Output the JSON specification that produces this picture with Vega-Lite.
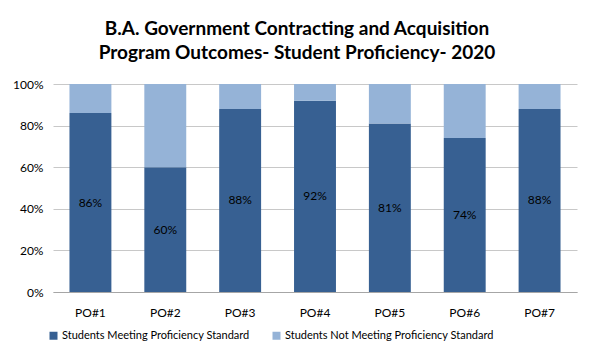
{
  "$schema": "https://vega.github.io/schema/vega-lite/v6.json",
  "width": 524,
  "height": 208,
  "autosize": {"type": "none"},
  "padding": {"left": 53, "top": 84, "right": 18, "bottom": 69},
  "background": "white",
  "title": {
    "text": ["B.A. Government Contracting and Acquisition", "Program Outcomes- Student Proficiency- 2020"],
    "anchor": "middle",
    "dx": -18,
    "font": "Lato",
    "fontSize": 19,
    "fontWeight": "bold",
    "lineHeight": 24,
    "offset": 15,
    "color": "#000000"
  },
  "data": {
    "values": [
      {"po": "PO#1", "category": "Students Meeting Proficiency Standard", "value": 0.86},
      {"po": "PO#2", "category": "Students Meeting Proficiency Standard", "value": 0.60},
      {"po": "PO#3", "category": "Students Meeting Proficiency Standard", "value": 0.88},
      {"po": "PO#4", "category": "Students Meeting Proficiency Standard", "value": 0.92},
      {"po": "PO#5", "category": "Students Meeting Proficiency Standard", "value": 0.81},
      {"po": "PO#6", "category": "Students Meeting Proficiency Standard", "value": 0.74},
      {"po": "PO#7", "category": "Students Meeting Proficiency Standard", "value": 0.88},
      {"po": "PO#1", "category": "Students Not Meeting Proficiency Standard", "value": 0.14},
      {"po": "PO#2", "category": "Students Not Meeting Proficiency Standard", "value": 0.40},
      {"po": "PO#3", "category": "Students Not Meeting Proficiency Standard", "value": 0.12},
      {"po": "PO#4", "category": "Students Not Meeting Proficiency Standard", "value": 0.08},
      {"po": "PO#5", "category": "Students Not Meeting Proficiency Standard", "value": 0.19},
      {"po": "PO#6", "category": "Students Not Meeting Proficiency Standard", "value": 0.26},
      {"po": "PO#7", "category": "Students Not Meeting Proficiency Standard", "value": 0.12}
    ]
  },
  "encoding": {
    "x": {
      "field": "po", "type": "nominal", "sort": null,
      "scale": {"paddingInner": 0.44, "paddingOuter": 0.22},
      "axis": {"title": null, "labelAngle": 0, "ticks": false, "domainColor": "#A6A6A6", "labelFont": "Lato", "labelFontSize": 12, "labelColor": "#000000", "labelPadding": 15, "grid": false}
    }
  },
  "layer": [
    {
      "mark": {"type": "bar"},
      "encoding": {
        "y": {
          "field": "value", "type": "quantitative", "stack": "zero",
          "scale": {"domain": [0, 1]},
          "axis": {"title": null, "format": ".0%", "values": [0, 0.2, 0.4, 0.6, 0.8, 1], "labelOverlap": false, "grid": true, "domain": false, "ticks": false, "gridColor": "#C8C8C8", "gridOpacity": 1, "labelFont": "Lato", "labelFontSize": 12, "labelColor": "#000000", "labelPadding": 10}
        },
        "color": {
          "field": "category", "type": "nominal",
          "scale": {"domain": ["Students Meeting Proficiency Standard", "Students Not Meeting Proficiency Standard"], "range": ["#376092", "#95B3D7"]},
          "legend": {"title": null, "orient": "none", "direction": "horizontal", "legendX": -5, "legendY": 246, "symbolType": "square", "symbolSize": 64, "symbolStrokeWidth": 0, "labelFont": "Lato", "labelFontSize": 11, "labelColor": "#000000", "labelLimit": 0, "columnPadding": 21, "labelOffset": 3}
        },
        "order": {"field": "category", "sort": "ascending"}
      }
    },
    {
      "transform": [
        {"filter": "datum.category === 'Students Meeting Proficiency Standard'"},
        {"calculate": "datum.value / 2", "as": "mid"}
      ],
      "mark": {"type": "text", "font": "Lato", "fontSize": 12, "color": "#000000", "baseline": "middle"},
      "encoding": {
        "y": {"field": "mid", "type": "quantitative"},
        "text": {"field": "value", "type": "quantitative", "format": ".0%"}
      }
    }
  ],
  "config": {"view": {"stroke": null}}
}
